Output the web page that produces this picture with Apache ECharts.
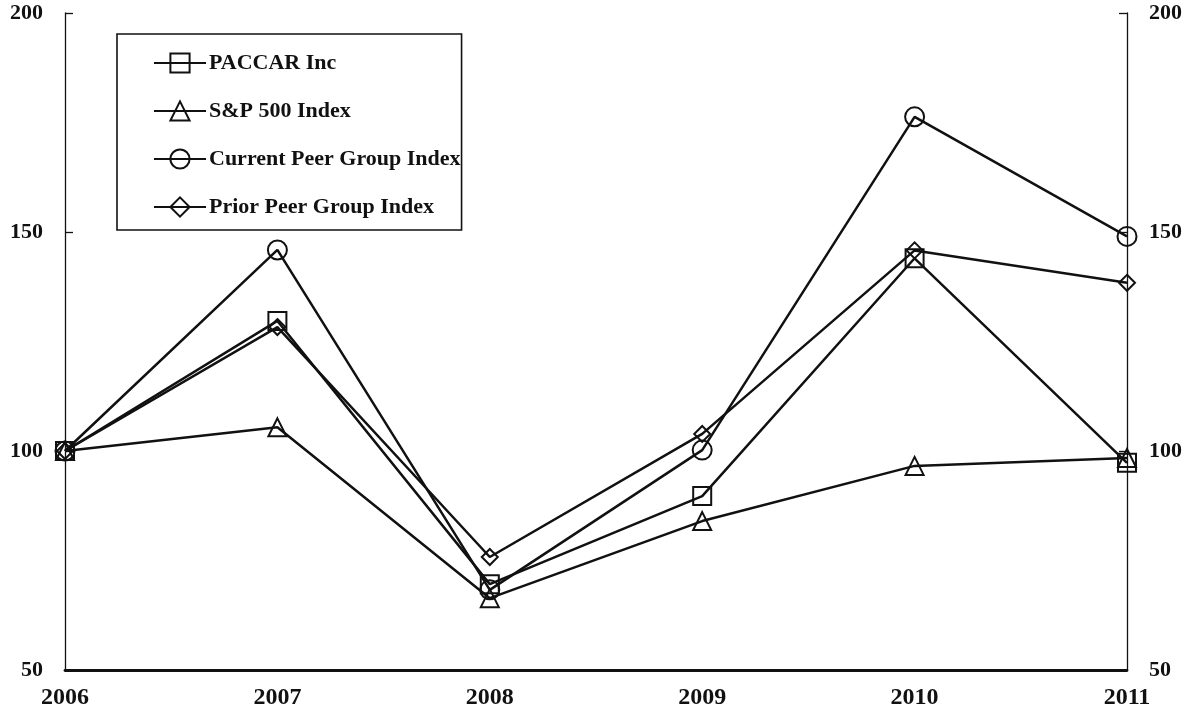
<!DOCTYPE html>
<html>
<head>
<meta charset="utf-8">
<script src="https://cdn.jsdelivr.net/npm/echarts@6/dist/echarts.min.js"></script>
<style>
html,body{margin:0;padding:0;background:#fff;}
#chart{width:1191px;height:712px;}
</style>
</head>
<body>
<div id="chart"></div>
<script>
const years = ['2006','2007','2008','2009','2010','2011'];
const paccar = [100, 129.7, 69.6, 89.7, 144.0, 97.3];
const sp500 = [100, 105.4, 66.4, 84.0, 96.6, 98.4];
const currentPeer = [100, 145.9, 68.3, 100.2, 176.3, 149.0];
const priorPeer = [100, 128.3, 75.8, 103.9, 145.8, 138.4];
const seriesNames = ['PACCAR Inc', 'S&P 500 Index', 'Current Peer Group Index', 'Prior Peer Group Index'];
const yTicks = [50, 100, 150, 200];

const FONT = 'Liberation Serif';
const INK = '#111';

function mk(name, data, symbol, size) {
  return {
    name: name,
    type: 'line',
    data: data,
    symbol: symbol,
    symbolSize: size,
    showAllSymbol: true,
    lineStyle: { color: INK, width: 2.5 },
    itemStyle: { color: 'rgba(0,0,0,0)', borderColor: INK, borderWidth: 2 },
    emphasis: { disabled: true },
    animation: false
  };
}

const chart = echarts.init(document.getElementById('chart'), null, { renderer: 'canvas' });
const yAxisCommon = {
  type: 'value',
  min: yTicks[0],
  max: yTicks[yTicks.length - 1],
  interval: 50,
  splitLine: { show: false },
  axisLine: { show: true, lineStyle: { color: INK, width: 1.3 } },
  axisTick: { show: true, inside: true, length: 8, lineStyle: { color: INK, width: 1.3 } },
  axisLabel: { fontFamily: FONT, fontWeight: 'bold', fontSize: 22, color: INK, margin: 22 }
};
chart.setOption({
  backgroundColor: '#fff',
  animation: false,
  grid: { left: 65, right: 64, top: 13, bottom: 42, containLabel: false },
  legend: {
    orient: 'vertical',
    left: 117,
    top: 34,
    padding: [18, 1, 12, 36],
    itemGap: 26,
    itemWidth: 52,
    itemHeight: 24,
    borderColor: INK,
    borderWidth: 1.6,
    data: seriesNames,
    textStyle: { fontFamily: FONT, fontWeight: 'bold', fontSize: 22, color: INK, padding: [0,0,0,-2] }
  },
  xAxis: {
    type: 'category',
    data: years,
    boundaryGap: false,
    axisLine: { show: true, lineStyle: { color: INK, width: 2.8 } },
    axisTick: { show: false },
    axisLabel: { fontFamily: FONT, fontWeight: 'bold', fontSize: 24, color: INK, margin: 16 }
  },
  yAxis: [
    Object.assign({}, yAxisCommon, { position: 'left' }),
    Object.assign({}, yAxisCommon, { position: 'right' })
  ],
  series: [
    mk(seriesNames[0], paccar, 'rect', 18),
    mk(seriesNames[1], sp500, 'triangle', 18),
    mk(seriesNames[2], currentPeer, 'circle', 19),
    mk(seriesNames[3], priorPeer, 'diamond', 16)
  ]
});
</script>
</body>
</html>
